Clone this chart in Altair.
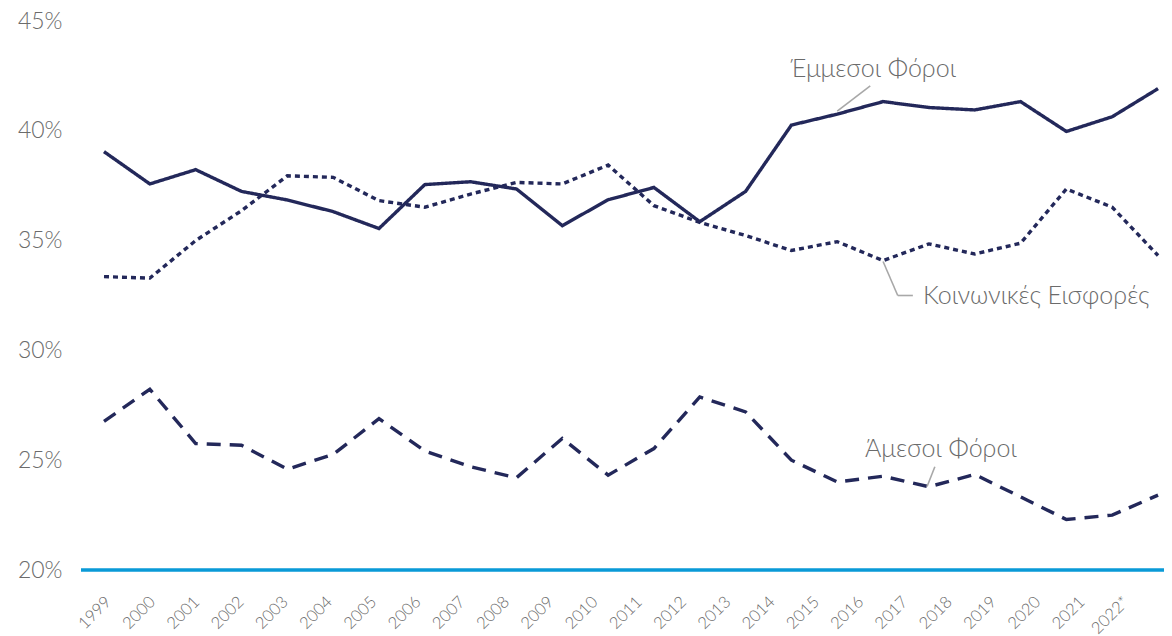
import altair as alt
import pandas as pd

years = ["1999", "2000", "2001", "2002", "2003", "2004", "2005", "2006", "2007",
         "2008", "2009", "2010", "2011", "2012", "2013", "2014", "2015", "2016",
         "2017", "2018", "2019", "2020", "2021", "2022*"]

indirect_taxes = [39.05, 37.58, 38.23, 37.24, 36.85, 36.32, 35.55, 37.55, 37.68,
                  37.35, 35.68, 36.86, 37.42, 35.86, 37.24, 40.26, 40.76, 41.33,
                  41.06, 40.95, 41.33, 39.97, 40.64, 41.92]
social_contrib = [33.36, 33.29, 35.00, 36.36, 37.95, 37.88, 36.82, 36.52, 37.12,
                  37.65, 37.58, 38.44, 36.59, 35.83, 35.23, 34.55, 34.95, 34.09,
                  34.85, 34.39, 34.88, 37.35, 36.52, 34.32]
direct_taxes = [26.77, 28.23, 25.76, 25.68, 24.59, 25.26, 26.89, 25.42, 24.70,
                24.20, 25.99, 24.32, 25.53, 27.88, 27.20, 25.00, 24.01, 24.27,
                23.79, 24.35, 23.33, 22.30, 22.50, 23.41]

y_ticks = [20, 25, 30, 35, 40, 45]

NAVY = "#23285a"
BLUE = "#0a9ad7"
GREY_TXT = "#6b6b6b"
LEADER = "#a8a8a8"
FONT = "Lato"

W, H = 1083, 549

idx = list(range(len(years)))
xscale = alt.Scale(domain=[-0.502, 23.13], nice=False, zero=False)
yscale = alt.Scale(domain=[20, 45], nice=False, zero=False)

yaxis = alt.Axis(values=y_ticks, labelExpr="datum.value + '%'", grid=False,
                 domain=False, ticks=False, labelPadding=19, labelFontSize=23,
                 labelColor=GREY_TXT, labelFont=FONT, labelFontWeight=300,
                 title=None)


def series_df(vals):
    return pd.DataFrame({"i": idx, "year": years, "v": vals})


def line_layer(vals, dash):
    return alt.Chart(series_df(vals)).mark_line(
        color=NAVY, strokeWidth=3.4, strokeDash=dash, strokeCap="butt",
        strokeJoin="miter", clip=False
    ).encode(
        x=alt.X("i:Q", scale=xscale, axis=None),
        y=alt.Y("v:Q", scale=yscale, axis=yaxis, title=None),
    )


baseline = alt.Chart(pd.DataFrame({"v": [20]})).mark_rule(
    color=BLUE, strokeWidth=3.5
).encode(y=alt.Y("v:Q", scale=yscale, axis=yaxis, title=None))

# annotations (positions in data units)
ann_text = pd.DataFrame({
    "i": [16.78, 17.87, 18.26],
    "v": [42.82, 32.50, 25.50],
    "t": ["Έμμεσοι Φόροι", "Κοινωνικές Εισφορές", "Άμεσοι Φόροι"],
    "a": ["center", "left", "center"],
})


def text_layer(df, align):
    return alt.Chart(df).mark_text(
        font=FONT, fontSize=25, fontWeight=300, color=GREY_TXT, align=align,
        baseline="middle"
    ).encode(x=alt.X("i:Q", scale=xscale, axis=None),
             y=alt.Y("v:Q", scale=yscale, axis=yaxis, title=None), text="t:N")


texts_center = text_layer(ann_text[ann_text["a"] == "center"], "center")
texts_left = text_layer(ann_text[ann_text["a"] == "left"], "left")

leaders = pd.DataFrame({
    "x1": [16.0, 17.0, 17.32, 18.13],
    "v": [40.90, 34.05, 32.50, 24.70],
    "x2": [16.72, 17.32, 17.65, 17.96],
    "v2": [42.05, 32.50, 32.50, 23.80],
})
leader_rules = alt.Chart(leaders).mark_rule(color=LEADER, strokeWidth=1.6).encode(
    x=alt.X("x1:Q", scale=xscale, axis=None),
    y=alt.Y("v:Q", scale=yscale, axis=yaxis, title=None),
    x2="x2:Q", y2="v2:Q",
)

# x-axis labels on their own scale
lab_df = pd.DataFrame({"i": idx, "year": years})
label_expr = "[" + ",".join("'%s'" % y for y in years) + "][datum.value]"
xlabels = alt.Chart(lab_df).mark_point(opacity=0, size=1).encode(
    x=alt.X("i:Q", scale=alt.Scale(domain=[-0.61, 23.86], nice=False, zero=False),
            axis=alt.Axis(values=idx, labelExpr=label_expr, orient="bottom",
                          labelAngle=-45, labelAlign="right", labelBaseline="middle",
                          labelFontSize=16.5, labelColor=GREY_TXT, labelFont=FONT,
                          labelFontWeight=300, labelPadding=29, ticks=False,
                          domain=False, grid=False, labelOverlap=False,
                          labelFlush=False, labelBound=False, title=None)),
    y=alt.value(0),
)

chart = alt.layer(
    baseline,
    line_layer(direct_taxes, [14, 9]),
    line_layer(social_contrib, [5, 4]),
    line_layer(indirect_taxes, [1, 0]),
    leader_rules,
    texts_center,
    texts_left,
    xlabels,
).resolve_scale(x="independent").properties(
    width=W, height=H,
    autosize=alt.AutoSizeParams(type="none"),
    padding={"left": 73, "top": 13, "right": 0, "bottom": 66},
).configure_view(stroke=None)

chart.save("out.html", embed_options={"renderer": "svg", "actions": False})
